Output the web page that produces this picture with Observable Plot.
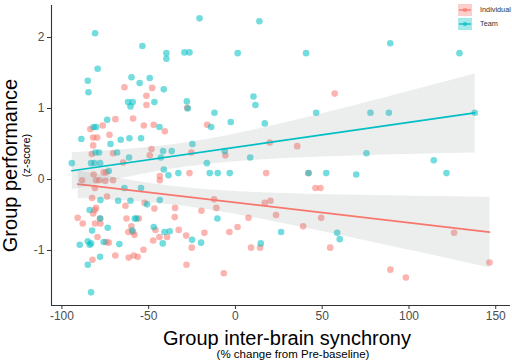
<!DOCTYPE html>
<html><head><meta charset="utf-8">
<script src="https://cdn.jsdelivr.net/npm/d3@7"></script>
<script src="https://cdn.jsdelivr.net/npm/@observablehq/plot@0.6"></script>
<style>
body{margin:0;background:#fff;font-family:"Liberation Sans",Arial,sans-serif;}
#wrap{position:relative;width:512px;height:364px;overflow:hidden;}
#legend{position:absolute;left:458px;top:3px;font-size:7.3px;color:#333;white-space:nowrap;}
.row{display:flex;align-items:center;height:13px;margin-bottom:1px;}
.key{width:14px;height:12px;margin-right:8px;display:block;}
</style></head><body><div id="wrap"><div id="legend"></div></div>
<script>
const groups = ["Individual", "Team"];
const colors = ["#F8766D", "#00BFC4"];
const xTicks = [-100, -50, 0, 50, 100, 150];
const yTicks = [-1, 0, 1, 2];
const xDomain = [-106, 158.5];
const yDomain = [-1.775, 2.451];
const xTitle = "Group inter-brain synchrony";
const xSub = "(% change from Pre-baseline)";
const yTitle = "Group performance";
const ySub = "(z-score)";

const teamX = [-80.9,-79.4,-85.1,-84.7,-53.6,-39.8,-39.8,-59.9,-55.2,-49.4,-41.3,-61.9,-59.2,-60.5,-46.7,-73.9,-80.3,-81.7,-88.8,-66.1,-61.1,-54.4,-43.8,-72.0,-80.7,-78.6,-68.2,-61.3,-41.7,-94.3,-83.2,-81.3,-78.0,-41.3,-73.0,-38.6,-77.8,-67.6,-60.5,-64.0,-54.4,-50.9,-43.6,-84.0,-58.0,-57.0,-82.6,-73.6,-47.1,-59.5,-40.9,-37.9,-85.1,-84.0,-83.2,-89.7,-75.9,-66.9,-41.9,-78.0,-85.1,-83.2,-20.7,13.8,-29.4,-26.5,1.3,40.7,-28.0,10.4,11.5,-12.1,46.5,-2.7,16.9,-14.0,-24.8,-36.7,-6.2,8.5,-16.5,-32.9,-14.8,-10.2,-3.3,52.3,42.1,-27.5,-10.4,26.3,14.6,-25.0,-19.8,58.6,60.1,69.6,121.6,89.2,129.1,77.8,88.4,137.9,75.5,114.3,-78.0,-43.0];
const teamY = [2.06,1.56,1.39,1.23,1.88,1.78,1.70,1.44,1.36,1.43,1.27,1.09,1.09,1.03,1.09,0.84,0.74,0.74,0.57,0.56,0.58,0.58,0.74,0.50,0.38,0.38,0.38,0.31,0.40,0.23,0.23,0.23,0.23,0.14,0.12,0.06,-0.29,-0.30,-0.30,-0.12,-0.12,-0.35,-0.29,-0.43,-0.55,-0.55,-0.72,-0.68,-0.67,-0.72,-0.74,-0.73,-0.87,-0.92,-0.90,-0.92,-0.88,-0.91,-0.90,-1.09,-1.20,-1.59,2.27,2.23,1.79,1.79,1.78,1.78,1.10,1.17,1.05,0.94,0.94,0.81,0.79,0.74,0.50,0.40,0.40,0.31,0.23,0.09,0.09,0.09,0.09,0.09,0.09,1.00,-0.55,-0.74,-0.90,-0.85,-0.89,-0.75,-0.84,0.07,0.09,1.92,1.78,0.94,0.94,0.94,0.37,0.27,-0.55,0.31];

const indX = [-64.0,-48.0,-51.3,-51.3,-59.0,-69.2,-83.6,-76.5,-52.8,-47.1,-40.7,-82.0,-79.7,-72.6,-82.8,-70.5,-48.4,-49.4,-64.7,-75.9,-74.4,-81.7,-43.6,-88.4,-80.3,-78.4,-70.5,-75.0,-82.6,-74.0,-80.3,-81.1,-63.4,-52.3,-46.7,-82.0,-90.9,-78.0,-62.8,-55.7,-88.0,-80.9,-77.8,-60.0,-61.7,-59.0,-58.2,-46.1,-79.5,-47.4,-43.8,-39.4,-74.4,-73.0,-53.0,-82.4,-69.2,-61.5,-58.6,-56.3,-27.8,57.2,-16.3,-25.4,-5.8,19.8,35.6,-26.5,17.7,42.1,46.1,49.0,-12.3,-11.0,16.9,20.2,23.4,-17.9,-3.5,1.2,7.5,39.0,9.0,14.2,-6.7,-82.0,-81.0,-43.6,-34.8,-35.0,-19.6,-32.7,-28.4,-25.2,-28.2,49.4,54.6,89.3,98.2,126.0,146.4];
const indY = [1.30,1.29,1.18,1.05,0.86,0.85,0.71,0.76,0.76,0.77,0.68,0.59,0.59,0.63,0.36,0.37,0.43,0.34,0.24,0.10,0.10,0.07,0.05,-0.01,-0.01,-0.01,-0.01,-0.02,-0.26,-0.24,-0.40,-0.43,-0.37,-0.33,-0.41,-0.48,-0.54,-0.55,-0.55,-0.55,-0.62,-0.62,-0.62,-0.66,-0.74,-0.74,-0.78,-0.71,-0.81,-0.86,-0.81,-0.81,-0.88,-0.89,-0.99,-1.13,-1.07,-1.10,-1.07,-1.09,1.01,1.21,0.77,0.38,0.34,0.52,0.47,0.09,0.09,0.09,-0.12,-0.12,-0.28,-0.40,-0.33,-0.30,-0.50,-0.75,-0.74,-0.67,-0.54,-0.66,-0.96,-0.96,-1.32,0.48,-0.12,-0.01,-0.40,-0.53,-0.44,-0.71,-0.79,-0.96,-1.20,-0.54,-0.96,-1.27,-1.38,-0.75,-1.17];

const data = [
  ...indX.map((x, i) => ({x, y: indY[i], g: groups[0]})),
  ...teamX.map((x, i) => ({x, y: teamY[i], g: groups[1]}))
];

const fmt = d => (d < 0 ? "-" : "") + Math.abs(d);
const font = '"Liberation Sans", Arial, sans-serif';
const chart = Plot.plot({
  width: 512, height: 364,
  marginLeft: 51, marginTop: 5, marginBottom: 59, marginRight: 2,
  x: {domain: xDomain},
  y: {domain: yDomain},
  color: {domain: groups, range: colors},
  style: {fontFamily: font, fontSize: "12px", color: "#4d4d4d", background: "#fff"},
  marks: [
    Plot.dot(data, {x: "x", y: "y", fill: "g", r: 3.3, fillOpacity: 0.55}),
    Plot.linearRegressionY(data, {x: "x", y: "y", stroke: "g", fill: "#8c9696", fillOpacity: 0.17, strokeWidth: 1.7, ci: 0.95}),
    Plot.ruleX([xDomain[0]], {stroke: "#333", strokeWidth: 1.1}),
    Plot.ruleY([yDomain[0]], {stroke: "#333", strokeWidth: 1.1}),
    Plot.axisX({ticks: xTicks, tickFormat: fmt, tickSize: 4, tickPadding: 2, label: null, stroke: "#333"}),
    Plot.axisY({ticks: yTicks, tickFormat: fmt, tickSize: 4, tickPadding: 3, label: null, stroke: "#333"})
  ]
});
document.getElementById("wrap").prepend(chart);

const svg = d3.select(chart);
svg.append("text").attr("x", 287).attr("y", 345).attr("text-anchor", "middle")
  .attr("font-size", 20).attr("fill", "#000").attr("font-family", font).text(xTitle);
svg.append("text").attr("x", 293).attr("y", 358).attr("text-anchor", "middle")
  .attr("font-size", 11.5).attr("fill", "#000").attr("font-family", font).text(xSub);
svg.append("text").attr("transform", "translate(16.5,165.5) rotate(-90)").attr("text-anchor", "middle")
  .attr("font-size", 20).attr("fill", "#000").attr("font-family", font).text(yTitle);
svg.append("text").attr("transform", "translate(30,155.5) rotate(-90)").attr("text-anchor", "middle")
  .attr("font-size", 11).attr("fill", "#000").attr("font-family", font).text(ySub);

const leg = d3.select("#legend");
groups.forEach((g, i) => {
  const row = leg.append("div").attr("class", "row");
  const k = row.append("svg").attr("class", "key").attr("width", 14).attr("height", 12);
  k.append("rect").attr("width", 14).attr("height", 12).attr("fill", colors[i]).attr("fill-opacity", 0.35);
  k.append("line").attr("x1", 1).attr("x2", 13).attr("y1", 6).attr("y2", 6).attr("stroke", colors[i]).attr("stroke-width", 1.3);
  k.append("circle").attr("cx", 7).attr("cy", 6).attr("r", 2.2).attr("fill", colors[i]).attr("fill-opacity", 0.6);
  row.append("span").text(g);
});
</script></body></html>
